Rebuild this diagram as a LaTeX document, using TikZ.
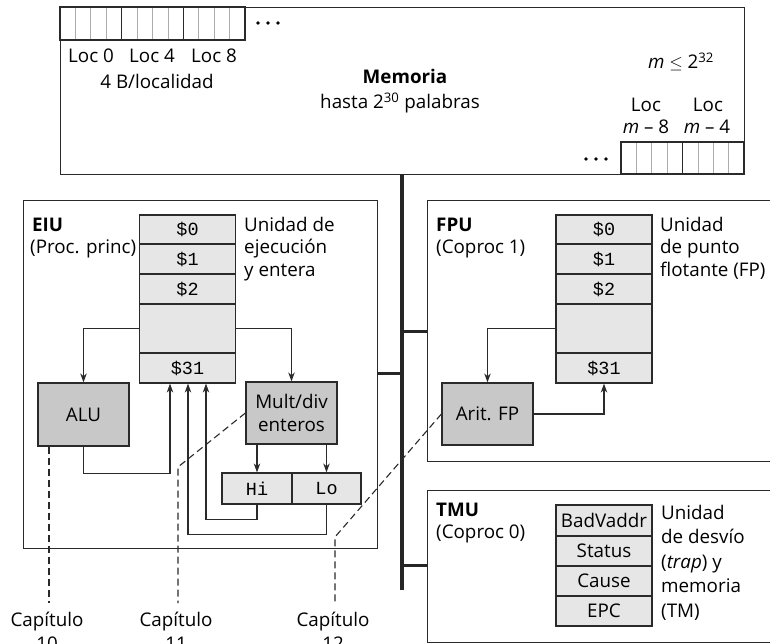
\documentclass[tikz,border=0pt]{standalone}
\usepackage{fontspec}
\setmainfont{Open Sans}
\setmonofont{Liberation Mono}
\usetikzlibrary{arrows.meta,calc}

\definecolor{ln}{HTML}{2A2A2A}
\definecolor{regfill}{HTML}{E6E6E6}
\definecolor{unitfill}{HTML}{C8C8C8}

\tikzset{
 every node/.style={font=\fontsize{18.8}{23}\selectfont, text=black, inner sep=0pt},
 frame/.style={draw=ln, line width=1.3pt, anchor=north west},
 reg/.style={draw=ln, fill=regfill, line width=1.2pt, minimum width=96pt, font=\fontsize{18.5}{20}\selectfont\ttfamily},
 tmreg/.style={draw=ln, fill=regfill, line width=1.2pt, minimum width=96pt},
 unit/.style={draw=ln, fill=unitfill, line width=1.2pt, align=center},
 arr/.style={draw=ln, line width=1.2pt, -{Stealth[length=9pt,width=6.5pt]}},
 cell/.style={draw=gray!65, line width=0.7pt},
 grp/.style={draw=ln, line width=1.3pt},
 bus/.style={draw=black!85, line width=3.5pt},
 chap/.style={draw=ln, line width=1.1pt, dash pattern=on 7pt off 4pt},
 lbl/.style={anchor=base west},
 ctr/.style={anchor=base},
}

\begin{document}
\begin{tikzpicture}[x=1pt,y=-1pt]
\useasboundingbox (0,0) rectangle (770,644);

% ---------- Memory ----------
\node[frame, minimum width=684pt, minimum height=167pt] (mem) at (60,7) {};
\foreach \i in {1,...,11} \draw[cell] ({60+\i*185/12},7) -- ({60+\i*185/12},40);
\draw[grp] (60,7) rectangle (245,40);
\draw[grp] ({60+185/3},7) -- ({60+185/3},40);
\draw[grp] ({60+2*185/3},7) -- ({60+2*185/3},40);
\foreach \x in {258,268,278} \fill[black] (\x,23) circle (1.8pt);

\foreach \i in {1,...,7} \draw[cell] ({621+\i*123/8},142) -- ({621+\i*123/8},174);
\draw[grp] (621,142) rectangle (744,174);
\draw[grp] (682.5,142) -- (682.5,174);
\foreach \x in {586,596,606} \fill[black] (\x,159) circle (1.8pt);

\node[ctr] (l0) at (91,63) {Loc 0};
\node[ctr] (l4) at (152,63) {Loc 4};
\node[ctr] (l8) at (214,63) {Loc 8};
\node[ctr] (lb) at (157,89) {4 B/localidad};
\node[ctr] (memt) at (405,84) {\textbf{Memoria}};
\node[ctr] (mems) at (400,109) {hasta 2\textsuperscript{30} palabras};
\node[ctr] (mm) at (681,69) {\textit{m} $\leq$ 2\textsuperscript{32}};
\node[ctr] (lm8a) at (646,112) {Loc};
\node[ctr] (lm4a) at (708,112) {Loc};
\node[ctr] (lm8b) at (646,134) {\textit{m} -- 8};
\node[ctr] (lm4b) at (707,134) {\textit{m} -- 4};

% ---------- Frames ----------
\node[frame, minimum width=354pt, minimum height=348pt] (eiu) at (23,200) {};
\node[frame, minimum width=350pt, minimum height=261pt] (fpu) at (427,200) {};
\node[frame, minimum width=350pt, minimum height=152pt] (tmu) at (427,490) {};

% ---------- Bus ----------
\coordinate (busT) at (402,174);
\coordinate (busB) at (402,590);
\coordinate (bE) at (402,373);
\coordinate (bF) at (402,331);
\coordinate (bT) at (402,565);
\draw[bus] (busT) -- (busB);
\draw[bus, line width=3pt] (bE) -- (bE -| eiu.east);
\draw[bus, line width=3pt] (bF) -- (bF -| fpu.west);
\draw[bus, line width=3pt] (bT) -- (bT -| tmu.west);

% ---------- EIU ----------
\node[lbl] (eiut) at (32,231) {\textbf{EIU}};
\node[lbl] (eius) at (30,253.5) {(Proc. princ)};
\node[lbl] (eiur1) at (244,231) {Unidad de};
\node[lbl] (eiur2) at (244,253.5) {ejecución};
\node[lbl] (eiur3) at (244,276) {y entera};

\node[reg, minimum height=29pt] (e0) at (187.5,229.5) {\$0};
\node[reg, minimum height=30pt] (e1) at (187.5,259) {\$1};
\node[reg, minimum height=30pt] (e2) at (187.5,289) {\$2};
\node[reg, minimum height=49pt] (eb) at (187.5,328.5) {};
\node[reg, minimum height=30pt] (e31) at (187.5,368) {\$31};

\node[unit, minimum width=91pt, minimum height=63pt] (alu) at (83.5,414.5) {ALU};
\node[unit, minimum width=91pt, minimum height=62pt] (mul) at (291.5,413) {Mult/div\\enteros};
\node[reg, minimum width=70pt, minimum height=31pt] (hi) at (257,488.5) {Hi};
\node[reg, minimum width=69pt, minimum height=31pt] (lo) at (326.5,488.5) {Lo};

\draw[arr] (eb.west) -| (alu.north);
\draw[arr] (eb.east) -| (mul.north);
\draw[arr] (hi.north |- mul.south) -- (hi.north);
\draw[arr] (lo.north |- mul.south) -- (lo.north);
\draw[arr] (alu.south) -- ++(0,27) -| ([xshift=-17.5pt]e31.south);
\draw[arr] (lo.south) -- ++(0,30) -| ([xshift=0.5pt]e31.south);
\draw[arr] (hi.south) -- ++(0,15) -| ([xshift=18.5pt]e31.south);

% ---------- FPU ----------
\node[lbl] (fput) at (436,231) {\textbf{FPU}};
\node[lbl] (fpus) at (436,253.5) {(Coproc 1)};
\node[lbl] (fpur1) at (660,231) {Unidad};
\node[lbl] (fpur2) at (660,253.5) {de punto};
\node[lbl] (fpur3) at (660,276) {flotante (FP)};

\node[reg, minimum height=29pt] (f0) at (604,229.5) {\$0};
\node[reg, minimum height=30pt] (f1) at (604,259) {\$1};
\node[reg, minimum height=30pt] (f2) at (604,289) {\$2};
\node[reg, minimum height=49pt] (fb) at (604,328.5) {};
\node[reg, minimum height=30pt] (f31) at (604,368) {\$31};

\node[unit, minimum width=91pt, minimum height=62pt] (afp) at (487.5,414) {Arit. FP};
\draw[arr] (fb.west) -| (afp.north);
\draw[arr] (afp.east) -| (f31.south);

% ---------- TMU ----------
\node[lbl] (tmut) at (436,516) {\textbf{TMU}};
\node[lbl] (tmus) at (436,538.5) {(Coproc 0)};
\node[lbl] (tmur1) at (661,519) {Unidad};
\node[lbl] (tmur2) at (661,543.5) {de desvío};
\node[lbl] (tmur3) at (661,568) {(\textit{trap}) y};
\node[lbl] (tmur4) at (661,592.5) {memoria};
\node[lbl] (tmur5) at (661,617) {(TM)};

\node[tmreg, minimum height=31pt] (bv) at (604,520.5) {BadVaddr};
\node[tmreg, minimum height=30pt] (st) at (604,551) {Status};
\node[tmreg, minimum height=30pt] (ca) at (604,581) {Cause};
\node[tmreg, minimum height=30pt] (epc) at (604,611) {EPC};

% ---------- Chapters ----------
\coordinate (d10) at (49,603);
\coordinate (k11) at (178,467);
\coordinate (d11) at (178,603);
\coordinate (k12) at (335,537);
\coordinate (d12) at (335,603);
\draw[chap] (alu.south -| d10) -- (d10);
\draw[chap] (mul.west) -- (k11) -- (d11);
\draw[chap] (afp.west) -- (k12) -- (d12);

\node[ctr] (c10) at (47,626) {Capítulo};
\node[ctr] (n10) at (47,650) {10};
\node[ctr] (c11) at (176,626) {Capítulo};
\node[ctr] (n11) at (176,650) {11};
\node[ctr] (c12) at (333,626) {Capítulo};
\node[ctr] (n12) at (333,650) {12};
\end{tikzpicture}
\end{document}
